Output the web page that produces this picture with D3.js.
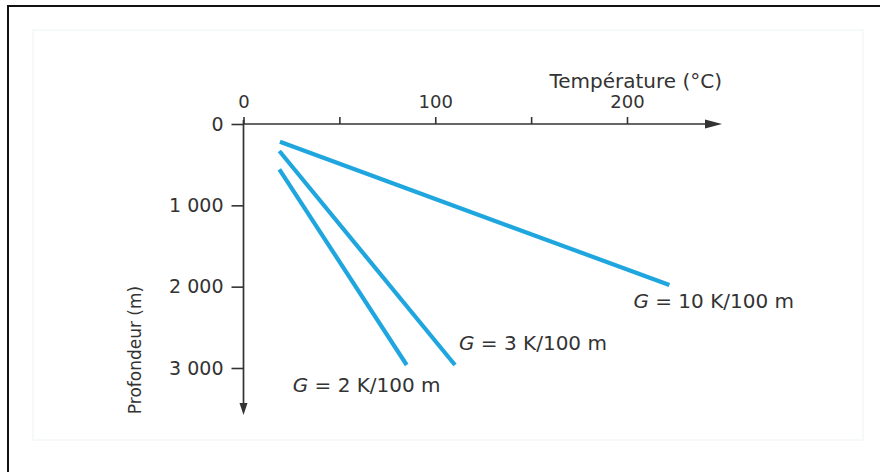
<!DOCTYPE html>
<html><head><meta charset="utf-8">
<script src="https://cdn.jsdelivr.net/npm/d3@7"></script>
<style>
html,body{margin:0;padding:0;background:#fff;}
svg{display:block;}
text{font-family:"DejaVu Sans",sans-serif;fill:#333;}
</style></head>
<body><svg id="c" width="880" height="472"></svg>
<script>
// ---- data ----
const seriesNames = ["G = 10 K/100 m", "G = 3 K/100 m", "G = 2 K/100 m"];
const gradients = ["10", "3", "2"];
const startTemps = [19, 18.7, 18.7];        // °C
const startDepths = [218, 332, 557];        // m
const endTemps = [222.1, 110.3, 85.1];      // °C
const endDepths = [1980, 2963, 2963];       // m
const xTicks = [0, 50, 100, 150, 200];
const xTickLabels = ["0", "", "100", "", "200"];
const yTicks = [0, 1000, 2000, 3000];
const yTickLabels = ["0", "1 000", "2 000", "3 000"];

const svg = d3.select("#c");
const x = d3.scaleLinear().domain([0, 200]).range([243.5, 627]);
const y = d3.scaleLinear().domain([0, 3000]).range([124, 368]);
const axisColor = "#333";

// frame
svg.append("rect").attr("x", 33).attr("y", 30).attr("width", 830).attr("height", 410)
  .attr("fill", "none").attr("stroke", "#f5f9f9").attr("stroke-width", 2);
svg.append("rect").attr("x", 8).attr("y", 6).attr("width", 900).attr("height", 500)
  .attr("fill", "none").attr("stroke", "#111").attr("stroke-width", 2);

// x axis (top)
const xAxisG = svg.append("g").attr("transform", `translate(0,${y(0)})`)
  .call(d3.axisTop(x).tickValues(xTicks).tickSize(7).tickPadding(9)
    .tickFormat((d, i) => xTickLabels[i]));
xAxisG.select(".domain").remove();
xAxisG.selectAll("line").attr("stroke", axisColor).attr("stroke-width", 1.6);
xAxisG.selectAll("text").attr("font-size", 18).attr("fill", "#333")
  .attr("font-family", "DejaVu Sans");
const xEnd = x.invert(706);
svg.append("line").attr("x1", x(0)).attr("x2", x(xEnd)).attr("y1", y(0)).attr("y2", y(0))
  .attr("stroke", axisColor).attr("stroke-width", 1.7);
const tipX = x.invert(722);
svg.append("path")
  .attr("d", `M${x(tipX)},${y(0)} L${x(tipX) - 17},${y(0) - 4.5} L${x(tipX) - 17},${y(0) + 4.5} Z`)
  .attr("fill", axisColor);
svg.append("text").attr("x", x(tipX)).attr("y", 88).attr("text-anchor", "end")
  .attr("font-size", 20).text("Température (°C)");

// y axis (left)
const yAxisG = svg.append("g").attr("transform", `translate(${x(0)},0)`)
  .call(d3.axisLeft(y).tickValues(yTicks).tickSize(12).tickPadding(8)
    .tickFormat((d, i) => yTickLabels[i]));
yAxisG.select(".domain").remove();
yAxisG.selectAll("line").attr("stroke", axisColor).attr("stroke-width", 1.6);
yAxisG.selectAll("text").attr("font-size", 19).attr("fill", "#333")
  .attr("font-family", "DejaVu Sans");
const yTip = y.invert(415);
svg.append("line").attr("x1", x(0)).attr("x2", x(0)).attr("y1", y(0) - 4).attr("y2", y(yTip) - 9)
  .attr("stroke", axisColor).attr("stroke-width", 1.7);
svg.append("path")
  .attr("d", `M${x(0)},${y(yTip)} L${x(0) - 4},${y(yTip) - 12} L${x(0) + 4},${y(yTip) - 12} Z`)
  .attr("fill", axisColor);
svg.append("text").attr("transform", `translate(141,350) rotate(-90)`)
  .attr("text-anchor", "middle").attr("font-size", 17).text("Profondeur (m)");

// lines
const lineGen = d3.line().x(d => x(d[0])).y(d => y(d[1]));
seriesNames.forEach((name, i) => {
  svg.append("path")
    .attr("d", lineGen([[startTemps[i], startDepths[i]], [endTemps[i], endDepths[i]]]))
    .attr("stroke", "#1fa6df").attr("stroke-width", 4.2).attr("fill", "none");
});

// labels
const labelOffsets = [[-36, 23], [4, -15], [-114, 27]];
seriesNames.forEach((name, i) => {
  const t = svg.append("text")
    .attr("x", x(endTemps[i]) + labelOffsets[i][0])
    .attr("y", y(endDepths[i]) + labelOffsets[i][1])
    .attr("font-size", 20);
  t.append("tspan").attr("font-style", "italic").text("G");
  t.append("tspan").text(" = " + gradients[i] + " K/100 m");
});
</script></body></html>
